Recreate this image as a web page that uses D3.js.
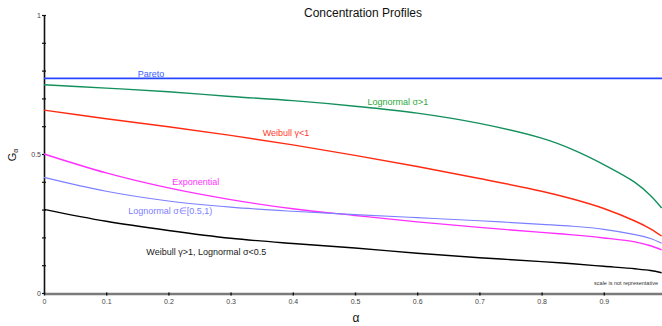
<!DOCTYPE html>
<html>
<head>
<meta charset="utf-8">
<script src="https://cdn.jsdelivr.net/npm/d3@7"></script>
<style>
  html, body { margin: 0; padding: 0; background: #fff; }
  svg { display: block; font-family: "Liberation Sans", Arial, sans-serif; }
</style>
</head>
<body>
<svg id="chart" width="662" height="326"></svg>
<script>
// ---- data ----
const alphas = [0, 0.1, 0.2, 0.3, 0.4, 0.5, 0.6, 0.7, 0.8, 0.85, 0.9, 0.95, 0.975, 0.993];
const lognormalHigh = [0.749, 0.737, 0.724, 0.707, 0.692, 0.672, 0.647, 0.610, 0.557, 0.516, 0.462, 0.398, 0.351, 0.306];
const weibullLow    = [0.658, 0.627, 0.598, 0.567, 0.533, 0.495, 0.455, 0.412, 0.366, 0.338, 0.304, 0.259, 0.231, 0.205];
const exponential   = [0.500, 0.432, 0.378, 0.336, 0.303, 0.279, 0.256, 0.236, 0.218, 0.209, 0.198, 0.184, 0.170, 0.155];
const lognormalMid  = [0.416, 0.366, 0.331, 0.309, 0.294, 0.282, 0.271, 0.260, 0.247, 0.240, 0.229, 0.210, 0.196, 0.179];
const weibullHigh   = [0.301, 0.258, 0.225, 0.197, 0.178, 0.162, 0.143, 0.127, 0.113, 0.105, 0.096, 0.087, 0.081, 0.073];
const paretoAlphas  = [0, 1];
const pareto        = [0.772, 0.772];

const xTicks = [0, 0.1, 0.2, 0.3, 0.4, 0.5, 0.6, 0.7, 0.8, 0.9];
const yTicks = [0, 0.1, 0.2, 0.3, 0.4, 0.5, 0.6, 0.7, 0.8, 0.9, 1];
const yTickLabels = {0: "0", 0.5: "0.5", 1: "1"};

const seriesNames = ["Pareto", "Lognormal σ>1", "Weibull γ<1", "Exponential", "Lognormal σ∈[0.5,1)", "Weibull γ>1, Lognormal σ<0.5"];

// ---- chart ----
const svg = d3.select("#chart");
const x = d3.scaleLinear().domain([0, 1]).range([44, 666]);
const y = d3.scaleLinear().domain([0, 1]).range([293, 15]);

const series = [
  {name: seriesNames[0], xs: paretoAlphas, ys: pareto, color: "#2448ff", label: "#3a5cff", lx: 0.172, ly: 0.785, w: 1.6},
  {name: seriesNames[1], xs: alphas, ys: lognormalHigh, color: "#13905c", label: "#2fa83a", lx: 0.569, ly: 0.686, w: 1.4},
  {name: seriesNames[2], xs: alphas, ys: weibullLow, color: "#ff2a10", label: "#ff3a2a", lx: 0.389, ly: 0.572, w: 1.4},
  {name: seriesNames[3], xs: alphas, ys: exponential, color: "#ff30ff", label: "#ff30ff", lx: 0.244, ly: 0.396, w: 1.4},
  {name: seriesNames[4], xs: alphas, ys: lognormalMid, color: "#7c80ff", label: "#8080ff", lx: 0.203, ly: 0.291, w: 1.1},
  {name: seriesNames[5], xs: alphas, ys: weibullHigh, color: "#000000", label: "#1a1a1a", lx: 0.261, ly: 0.147, w: 1.4}
];

const line = d3.line().x(d => x(d[0])).y(d => y(d[1])).curve(d3.curveCatmullRom.alpha(0.5));

// y axis
const yAxis = d3.axisLeft(y).tickValues(yTicks).tickSize(0).tickFormat(d => yTickLabels[d] !== undefined ? yTickLabels[d] : "");
const gy = svg.append("g").attr("transform", "translate(44,0)").call(yAxis);
gy.select(".domain").attr("stroke", "#111").attr("stroke-width", 1.6);
gy.selectAll(".tick text").attr("x", -3).attr("font-size", 7).attr("fill", "#444").attr("font-family", "Liberation Sans, Arial, sans-serif");
gy.selectAll(".tick").append("line").attr("x1", -2).attr("x2", 2).attr("stroke", "#111").attr("stroke-width", 1.2);

// x axis
const xAxis = d3.axisBottom(x).tickValues(xTicks).tickSize(0).tickFormat(d3.format(".1~f"));
const gx = svg.append("g").attr("transform", "translate(0,293.5)").call(xAxis);
gx.select(".domain").attr("stroke", "#7a7a7a").attr("stroke-width", 2.6);
gx.selectAll(".tick text").attr("y", 6).attr("font-size", 7).attr("fill", "#444").attr("font-family", "Liberation Sans, Arial, sans-serif");
gx.selectAll(".tick").append("line").attr("y1", -1).attr("y2", 2).attr("stroke", "#111").attr("stroke-width", 1.4);

// lines
series.forEach(s => {
  const pts = s.xs.map((a, i) => [a, s.ys[i]]);
  svg.append("path").datum(pts).attr("d", line)
    .attr("fill", "none").attr("stroke", s.color).attr("stroke-width", s.w);
});

// labels
series.forEach(s => {
  svg.append("text").attr("x", x(s.lx)).attr("y", y(s.ly))
    .attr("text-anchor", "middle").attr("dominant-baseline", "middle")
    .attr("font-size", 9).attr("fill", s.label).text(s.name);
});

// title
svg.append("text").attr("x", 363).attr("y", 17).attr("text-anchor", "middle")
  .attr("font-size", 12).attr("fill", "#111").text("Concentration Profiles");

// axis titles
svg.append("text").attr("x", 356).attr("y", 322).attr("text-anchor", "middle")
  .attr("font-size", 12).attr("fill", "#111").text("α");
const yl = svg.append("text").attr("transform", "translate(16,155) rotate(-90)")
  .attr("text-anchor", "middle").attr("font-size", 11).attr("fill", "#111");
yl.append("tspan").text("G");
yl.append("tspan").attr("font-size", 7).attr("dy", 2).text("α");

// note
svg.append("text").attr("x", 658).attr("y", 285).attr("text-anchor", "end")
  .attr("font-size", 5.5).attr("fill", "#333").text("scale is not representative");
</script>
</body>
</html>
